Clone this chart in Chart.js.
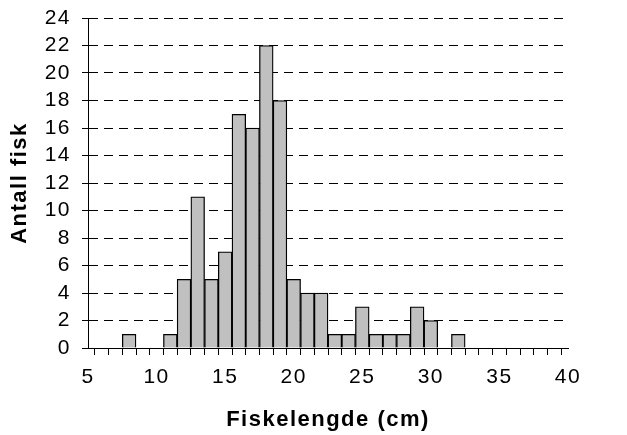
<!DOCTYPE html>
<html>
<head>
<meta charset="utf-8">
<script src="https://cdn.jsdelivr.net/npm/chart.js@4.4.0/dist/chart.umd.min.js"></script>
<style>
  body { margin: 0; background: #fff; }
  #wrap { width: 627px; height: 435px; }
</style>
</head>
<body>
<div id="wrap"><canvas id="hist" width="627" height="435"></canvas></div>
<script>
// fish length (cm) and count per 1 cm class
var lengths = [8, 11, 12, 13, 14, 15, 16, 17, 18, 19, 20, 21, 22, 23, 24, 25, 26, 27, 28, 29, 30, 32];
var counts  = [1, 1, 5, 11, 5, 7, 17, 16, 22, 18, 5, 4, 4, 1, 1, 3, 1, 1, 1, 3, 2, 1];
var xRange = [5, 40];
var yRange = [0, 24];

var points = [];
for (var i in lengths) {
  points.push({ x: lengths[i], y: counts[i] });
}

var font = "'Liberation Sans', Arial, sans-serif";

// the old spreadsheet text is a bit spaced out
var spacing = {
  id: 'spacing',
  beforeInit: function (chart) { chart.ctx.letterSpacing = '1.5px'; },
  beforeDraw: function (chart) { chart.ctx.letterSpacing = '1.5px'; }
};

var ctx = document.getElementById("hist");
var histChart = new Chart(ctx, {
  type: 'bar',
  plugins: [spacing],
  data: {
    datasets: [{
      label: 'Antall fisk',
      data: points,
      backgroundColor: '#c0c0c0',
      borderColor: '#000',
      borderWidth: 1.3,
      barPercentage: 1,
      categoryPercentage: 1
    }]
  },
  options: {
    responsive: false,
    animation: false,
    layout: { padding: { top: 18, right: 59, left: 4, bottom: 2 } },
    plugins: {
      legend: { display: false },
      tooltip: { enabled: false }
    },
    scales: {
      x: {
        type: 'linear',
        min: xRange[0],
        max: xRange[1],
        offset: false,
        afterFit: function (scale) { scale.height = 85; },
        ticks: {
          stepSize: 1,
          autoSkip: false,
          maxRotation: 0,
          color: '#000',
          padding: 10,
          font: { family: font, size: 21 },
          callback: function (v) { return v % 5 === 0 ? v : ''; }
        },
        grid: {
          drawOnChartArea: false,
          drawTicks: true,
          tickLength: 7,
          tickColor: '#000'
        },
        border: { color: '#000', width: 1 },
        title: {
          display: true,
          text: 'Fiskelengde (cm)',
          color: '#000',
          padding: { top: 10, bottom: 0 },
          font: { family: font, size: 22, weight: 'bold' }
        }
      },
      y: {
        min: yRange[0],
        max: yRange[1],
        afterFit: function (scale) {
          scale.width = 84;
          scale.paddingTop = 0;
          scale.paddingBottom = 0;
        },
        ticks: {
          stepSize: 2,
          autoSkip: false,
          color: '#000',
          padding: 11,
          font: { family: font, size: 21 }
        },
        grid: {
          color: '#000',
          lineWidth: 1,
          drawTicks: true,
          tickLength: 6,
          tickColor: '#000'
        },
        border: { color: '#000', width: 1, dash: [9, 6] },
        title: {
          display: true,
          text: 'Antall fisk',
          color: '#000',
          padding: { top: 3, bottom: 8 },
          font: { family: font, size: 22, weight: 'bold' }
        }
      }
    }
  }
});
</script>
</body>
</html>
